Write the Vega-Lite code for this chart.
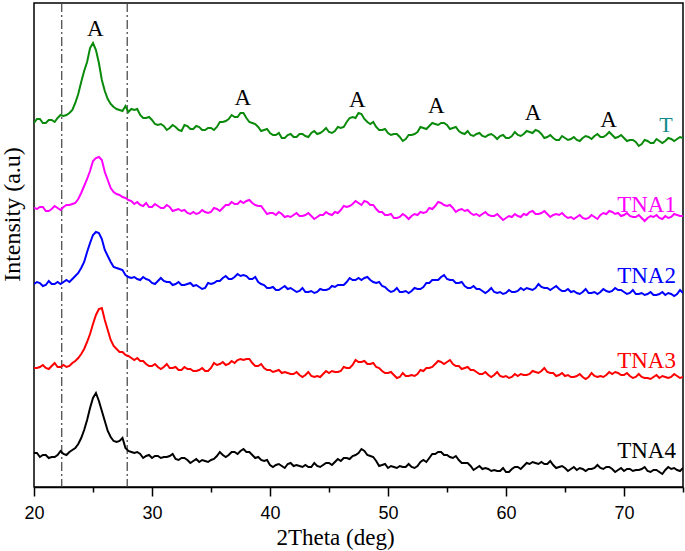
{
  "$schema": "https://vega.github.io/schema/vega-lite/v6.json",
  "autosize": {"type": "none"},
  "padding": {"left": 34, "top": 3, "right": 2, "bottom": 64},
  "width": 649,
  "height": 484,
  "background": "white",
  "config": {"view": {"stroke": "black", "strokeWidth": 1.5}},
  "datasets": {
    "xrd": [
      {"x":20.0,"T":364,"TNA1":279,"TNA2":203,"TNA3":119,"TNA4":34},
      {"x":20.25,"T":368,"TNA1":278,"TNA2":205,"TNA3":119,"TNA4":34},
      {"x":20.5,"T":368,"TNA1":280,"TNA2":204,"TNA3":120,"TNA4":30},
      {"x":20.75,"T":364,"TNA1":280,"TNA2":201,"TNA3":122,"TNA4":32},
      {"x":21.0,"T":364,"TNA1":276,"TNA2":202,"TNA3":119,"TNA4":32},
      {"x":21.25,"T":367,"TNA1":276,"TNA2":206,"TNA3":118,"TNA4":29},
      {"x":21.5,"T":367,"TNA1":278,"TNA2":203,"TNA3":121,"TNA4":30},
      {"x":21.75,"T":365,"TNA1":281,"TNA2":203,"TNA3":124,"TNA4":30},
      {"x":22.0,"T":369,"TNA1":279,"TNA2":205,"TNA3":120,"TNA4":32},
      {"x":22.25,"T":372,"TNA1":277,"TNA2":203,"TNA3":120,"TNA4":36},
      {"x":22.5,"T":371,"TNA1":280,"TNA2":205,"TNA3":122,"TNA4":33},
      {"x":22.75,"T":372,"TNA1":282,"TNA2":207,"TNA3":120,"TNA4":32},
      {"x":23.0,"T":374,"TNA1":282,"TNA2":205,"TNA3":121,"TNA4":35},
      {"x":23.25,"T":377,"TNA1":283,"TNA2":208,"TNA3":124,"TNA4":37},
      {"x":23.5,"T":384,"TNA1":284,"TNA2":211,"TNA3":126,"TNA4":39},
      {"x":23.75,"T":393,"TNA1":288,"TNA2":214,"TNA3":129,"TNA4":43},
      {"x":24.0,"T":405,"TNA1":294,"TNA2":219,"TNA3":133,"TNA4":49},
      {"x":24.25,"T":416,"TNA1":301,"TNA2":225,"TNA3":138,"TNA4":57},
      {"x":24.5,"T":425,"TNA1":308,"TNA2":235,"TNA3":145,"TNA4":67},
      {"x":24.75,"T":439,"TNA1":316,"TNA2":244,"TNA3":153,"TNA4":79},
      {"x":25.0,"T":444,"TNA1":326,"TNA2":252,"TNA3":163,"TNA4":89},
      {"x":25.25,"T":437,"TNA1":329,"TNA2":255,"TNA3":172,"TNA4":94},
      {"x":25.5,"T":424,"TNA1":330,"TNA2":254,"TNA3":178,"TNA4":86},
      {"x":25.75,"T":407,"TNA1":327,"TNA2":248,"TNA3":179,"TNA4":76},
      {"x":26.0,"T":396,"TNA1":315,"TNA2":237,"TNA3":167,"TNA4":66},
      {"x":26.25,"T":388,"TNA1":307,"TNA2":231,"TNA3":157,"TNA4":56},
      {"x":26.5,"T":383,"TNA1":299,"TNA2":225,"TNA3":147,"TNA4":50},
      {"x":26.75,"T":380,"TNA1":295,"TNA2":220,"TNA3":141,"TNA4":46},
      {"x":27.0,"T":378,"TNA1":293,"TNA2":219,"TNA3":138,"TNA4":45},
      {"x":27.25,"T":377,"TNA1":292,"TNA2":218,"TNA3":135,"TNA4":46},
      {"x":27.5,"T":376,"TNA1":290,"TNA2":217,"TNA3":135,"TNA4":49},
      {"x":27.75,"T":381,"TNA1":289,"TNA2":212,"TNA3":132,"TNA4":39},
      {"x":28.0,"T":375,"TNA1":287,"TNA2":210,"TNA3":131,"TNA4":36},
      {"x":28.25,"T":378,"TNA1":286,"TNA2":209,"TNA3":129,"TNA4":35},
      {"x":28.5,"T":377,"TNA1":283,"TNA2":210,"TNA3":127,"TNA4":34},
      {"x":28.75,"T":378,"TNA1":285,"TNA2":208,"TNA3":129,"TNA4":35},
      {"x":29.0,"T":372,"TNA1":282,"TNA2":207,"TNA3":126,"TNA4":33},
      {"x":29.25,"T":369,"TNA1":281,"TNA2":210,"TNA3":126,"TNA4":29},
      {"x":29.5,"T":369,"TNA1":284,"TNA2":208,"TNA3":123,"TNA4":31},
      {"x":29.75,"T":370,"TNA1":280,"TNA2":207,"TNA3":121,"TNA4":32},
      {"x":30.0,"T":367,"TNA1":280,"TNA2":204,"TNA3":121,"TNA4":29},
      {"x":30.25,"T":363,"TNA1":283,"TNA2":203,"TNA3":123,"TNA4":31},
      {"x":30.5,"T":362,"TNA1":281,"TNA2":206,"TNA3":120,"TNA4":31},
      {"x":30.75,"T":363,"TNA1":279,"TNA2":209,"TNA3":118,"TNA4":29},
      {"x":31.0,"T":361,"TNA1":279,"TNA2":206,"TNA3":120,"TNA4":30},
      {"x":31.25,"T":357,"TNA1":282,"TNA2":205,"TNA3":123,"TNA4":30},
      {"x":31.5,"T":359,"TNA1":280,"TNA2":205,"TNA3":119,"TNA4":31},
      {"x":31.75,"T":362,"TNA1":276,"TNA2":202,"TNA3":119,"TNA4":33},
      {"x":32.0,"T":360,"TNA1":277,"TNA2":203,"TNA3":120,"TNA4":28},
      {"x":32.25,"T":357,"TNA1":278,"TNA2":205,"TNA3":117,"TNA4":27},
      {"x":32.5,"T":356,"TNA1":276,"TNA2":202,"TNA3":117,"TNA4":29},
      {"x":32.75,"T":362,"TNA1":277,"TNA2":202,"TNA3":120,"TNA4":29},
      {"x":33.0,"T":361,"TNA1":274,"TNA2":203,"TNA3":118,"TNA4":27},
      {"x":33.25,"T":358,"TNA1":273,"TNA2":204,"TNA3":118,"TNA4":24},
      {"x":33.5,"T":358,"TNA1":275,"TNA2":201,"TNA3":116,"TNA4":26},
      {"x":33.75,"T":361,"TNA1":273,"TNA2":202,"TNA3":116,"TNA4":28},
      {"x":34.0,"T":360,"TNA1":274,"TNA2":200,"TNA3":117,"TNA4":25},
      {"x":34.25,"T":357,"TNA1":277,"TNA2":198,"TNA3":119,"TNA4":27},
      {"x":34.5,"T":357,"TNA1":275,"TNA2":199,"TNA3":116,"TNA4":26},
      {"x":34.75,"T":359,"TNA1":274,"TNA2":204,"TNA3":116,"TNA4":25},
      {"x":35.0,"T":359,"TNA1":275,"TNA2":203,"TNA3":119,"TNA4":27},
      {"x":35.25,"T":357,"TNA1":279,"TNA2":204,"TNA3":124,"TNA4":28},
      {"x":35.5,"T":360,"TNA1":278,"TNA2":206,"TNA3":122,"TNA4":31},
      {"x":35.75,"T":365,"TNA1":276,"TNA2":206,"TNA3":123,"TNA4":35},
      {"x":36.0,"T":365,"TNA1":279,"TNA2":209,"TNA3":125,"TNA4":32},
      {"x":36.25,"T":366,"TNA1":282,"TNA2":211,"TNA3":122,"TNA4":30},
      {"x":36.5,"T":368,"TNA1":282,"TNA2":208,"TNA3":123,"TNA4":32},
      {"x":36.75,"T":372,"TNA1":285,"TNA2":208,"TNA3":126,"TNA4":35},
      {"x":37.0,"T":370,"TNA1":283,"TNA2":210,"TNA3":124,"TNA4":35},
      {"x":37.25,"T":370,"TNA1":283,"TNA2":213,"TNA3":127,"TNA4":33},
      {"x":37.5,"T":374,"TNA1":286,"TNA2":211,"TNA3":128,"TNA4":36},
      {"x":37.75,"T":374,"TNA1":284,"TNA2":212,"TNA3":127,"TNA4":38},
      {"x":38.0,"T":369,"TNA1":286,"TNA2":211,"TNA3":128,"TNA4":35},
      {"x":38.25,"T":365,"TNA1":287,"TNA2":208,"TNA3":128,"TNA4":35},
      {"x":38.5,"T":364,"TNA1":284,"TNA2":208,"TNA3":124,"TNA4":32},
      {"x":38.75,"T":363,"TNA1":282,"TNA2":210,"TNA3":121,"TNA4":29},
      {"x":39.0,"T":360,"TNA1":281,"TNA2":205,"TNA3":121,"TNA4":30},
      {"x":39.25,"T":356,"TNA1":281,"TNA2":203,"TNA3":123,"TNA4":27},
      {"x":39.5,"T":357,"TNA1":277,"TNA2":202,"TNA3":119,"TNA4":26},
      {"x":39.75,"T":358,"TNA1":273,"TNA2":199,"TNA3":117,"TNA4":27},
      {"x":40.0,"T":354,"TNA1":274,"TNA2":199,"TNA3":117,"TNA4":22},
      {"x":40.25,"T":352,"TNA1":274,"TNA2":200,"TNA3":115,"TNA4":20},
      {"x":40.5,"T":352,"TNA1":272,"TNA2":197,"TNA3":116,"TNA4":22},
      {"x":40.75,"T":354,"TNA1":275,"TNA2":197,"TNA3":117,"TNA4":23},
      {"x":41.0,"T":349,"TNA1":273,"TNA2":199,"TNA3":114,"TNA4":21},
      {"x":41.25,"T":349,"TNA1":270,"TNA2":201,"TNA3":115,"TNA4":19},
      {"x":41.5,"T":352,"TNA1":271,"TNA2":198,"TNA3":114,"TNA4":23},
      {"x":41.75,"T":353,"TNA1":270,"TNA2":199,"TNA3":113,"TNA4":24},
      {"x":42.0,"T":350,"TNA1":272,"TNA2":197,"TNA3":113,"TNA4":21},
      {"x":42.25,"T":350,"TNA1":274,"TNA2":195,"TNA3":115,"TNA4":22},
      {"x":42.5,"T":353,"TNA1":271,"TNA2":196,"TNA3":112,"TNA4":21},
      {"x":42.75,"T":353,"TNA1":271,"TNA2":199,"TNA3":110,"TNA4":20},
      {"x":43.0,"T":351,"TNA1":272,"TNA2":195,"TNA3":112,"TNA4":22},
      {"x":43.25,"T":350,"TNA1":274,"TNA2":195,"TNA3":115,"TNA4":20},
      {"x":43.5,"T":354,"TNA1":271,"TNA2":196,"TNA3":111,"TNA4":20},
      {"x":43.75,"T":356,"TNA1":268,"TNA2":194,"TNA3":110,"TNA4":24},
      {"x":44.0,"T":353,"TNA1":270,"TNA2":195,"TNA3":111,"TNA4":21},
      {"x":44.25,"T":354,"TNA1":272,"TNA2":198,"TNA3":110,"TNA4":20},
      {"x":44.5,"T":356,"TNA1":272,"TNA2":197,"TNA3":113,"TNA4":22},
      {"x":44.75,"T":359,"TNA1":275,"TNA2":197,"TNA3":116,"TNA4":24},
      {"x":45.0,"T":355,"TNA1":273,"TNA2":198,"TNA3":114,"TNA4":24},
      {"x":45.25,"T":354,"TNA1":272,"TNA2":201,"TNA3":116,"TNA4":22},
      {"x":45.5,"T":356,"TNA1":275,"TNA2":200,"TNA3":115,"TNA4":25},
      {"x":45.75,"T":360,"TNA1":274,"TNA2":202,"TNA3":115,"TNA4":28},
      {"x":46.0,"T":359,"TNA1":277,"TNA2":202,"TNA3":116,"TNA4":26},
      {"x":46.25,"T":360,"TNA1":281,"TNA2":202,"TNA3":120,"TNA4":29},
      {"x":46.5,"T":365,"TNA1":280,"TNA2":205,"TNA3":119,"TNA4":29},
      {"x":46.75,"T":369,"TNA1":281,"TNA2":209,"TNA3":119,"TNA4":28},
      {"x":47.0,"T":370,"TNA1":283,"TNA2":207,"TNA3":122,"TNA4":31},
      {"x":47.25,"T":369,"TNA1":286,"TNA2":207,"TNA3":127,"TNA4":32},
      {"x":47.5,"T":374,"TNA1":284,"TNA2":209,"TNA3":125,"TNA4":34},
      {"x":47.75,"T":373,"TNA1":282,"TNA2":207,"TNA3":125,"TNA4":38},
      {"x":48.0,"T":368,"TNA1":286,"TNA2":209,"TNA3":126,"TNA4":36},
      {"x":48.25,"T":365,"TNA1":285,"TNA2":210,"TNA3":123,"TNA4":32},
      {"x":48.5,"T":363,"TNA1":282,"TNA2":207,"TNA3":123,"TNA4":31},
      {"x":48.75,"T":365,"TNA1":282,"TNA2":205,"TNA3":124,"TNA4":30},
      {"x":49.0,"T":360,"TNA1":278,"TNA2":204,"TNA3":120,"TNA4":26},
      {"x":49.25,"T":357,"TNA1":275,"TNA2":205,"TNA3":119,"TNA4":21},
      {"x":49.5,"T":357,"TNA1":275,"TNA2":201,"TNA3":116,"TNA4":22},
      {"x":49.75,"T":358,"TNA1":272,"TNA2":200,"TNA3":114,"TNA4":23},
      {"x":50.0,"T":354,"TNA1":272,"TNA2":197,"TNA3":114,"TNA4":19},
      {"x":50.25,"T":352,"TNA1":273,"TNA2":195,"TNA3":115,"TNA4":21},
      {"x":50.5,"T":353,"TNA1":269,"TNA2":196,"TNA3":112,"TNA4":20},
      {"x":50.75,"T":353,"TNA1":269,"TNA2":199,"TNA3":109,"TNA4":19},
      {"x":51.0,"T":350,"TNA1":270,"TNA2":195,"TNA3":110,"TNA4":21},
      {"x":51.25,"T":346,"TNA1":273,"TNA2":195,"TNA3":114,"TNA4":20},
      {"x":51.5,"T":348,"TNA1":271,"TNA2":196,"TNA3":111,"TNA4":20},
      {"x":51.75,"T":352,"TNA1":268,"TNA2":194,"TNA3":111,"TNA4":23},
      {"x":52.0,"T":352,"TNA1":271,"TNA2":196,"TNA3":112,"TNA4":20},
      {"x":52.25,"T":353,"TNA1":273,"TNA2":199,"TNA3":111,"TNA4":19},
      {"x":52.5,"T":355,"TNA1":272,"TNA2":198,"TNA3":113,"TNA4":21},
      {"x":52.75,"T":360,"TNA1":275,"TNA2":198,"TNA3":117,"TNA4":25},
      {"x":53.0,"T":359,"TNA1":274,"TNA2":200,"TNA3":116,"TNA4":27},
      {"x":53.25,"T":358,"TNA1":275,"TNA2":204,"TNA3":119,"TNA4":25},
      {"x":53.5,"T":361,"TNA1":279,"TNA2":204,"TNA3":119,"TNA4":29},
      {"x":53.75,"T":364,"TNA1":278,"TNA2":207,"TNA3":120,"TNA4":33},
      {"x":54.0,"T":363,"TNA1":281,"TNA2":207,"TNA3":123,"TNA4":33},
      {"x":54.25,"T":362,"TNA1":285,"TNA2":207,"TNA3":126,"TNA4":35},
      {"x":54.5,"T":364,"TNA1":284,"TNA2":210,"TNA3":125,"TNA4":35},
      {"x":54.75,"T":364,"TNA1":282,"TNA2":212,"TNA3":123,"TNA4":32},
      {"x":55.0,"T":362,"TNA1":281,"TNA2":208,"TNA3":125,"TNA4":32},
      {"x":55.25,"T":358,"TNA1":282,"TNA2":207,"TNA3":127,"TNA4":30},
      {"x":55.5,"T":359,"TNA1":279,"TNA2":207,"TNA3":123,"TNA4":29},
      {"x":55.75,"T":360,"TNA1":275,"TNA2":204,"TNA3":121,"TNA4":31},
      {"x":56.0,"T":356,"TNA1":277,"TNA2":204,"TNA3":121,"TNA4":27},
      {"x":56.25,"T":354,"TNA1":278,"TNA2":205,"TNA3":118,"TNA4":24},
      {"x":56.5,"T":353,"TNA1":276,"TNA2":201,"TNA3":119,"TNA4":24},
      {"x":56.75,"T":356,"TNA1":277,"TNA2":199,"TNA3":120,"TNA4":24},
      {"x":57.0,"T":352,"TNA1":274,"TNA2":199,"TNA3":117,"TNA4":21},
      {"x":57.25,"T":351,"TNA1":272,"TNA2":201,"TNA3":117,"TNA4":17},
      {"x":57.5,"T":353,"TNA1":273,"TNA2":198,"TNA3":115,"TNA4":19},
      {"x":57.75,"T":354,"TNA1":271,"TNA2":198,"TNA3":113,"TNA4":21},
      {"x":58.0,"T":351,"TNA1":273,"TNA2":196,"TNA3":113,"TNA4":18},
      {"x":58.25,"T":350,"TNA1":275,"TNA2":194,"TNA3":115,"TNA4":19},
      {"x":58.5,"T":352,"TNA1":272,"TNA2":196,"TNA3":112,"TNA4":18},
      {"x":58.75,"T":353,"TNA1":271,"TNA2":199,"TNA3":110,"TNA4":16},
      {"x":59.0,"T":351,"TNA1":271,"TNA2":195,"TNA3":112,"TNA4":17},
      {"x":59.25,"T":348,"TNA1":273,"TNA2":194,"TNA3":115,"TNA4":16},
      {"x":59.5,"T":351,"TNA1":270,"TNA2":195,"TNA3":111,"TNA4":16},
      {"x":59.75,"T":352,"TNA1":267,"TNA2":193,"TNA3":110,"TNA4":19},
      {"x":60.0,"T":349,"TNA1":269,"TNA2":194,"TNA3":111,"TNA4":15},
      {"x":60.25,"T":349,"TNA1":271,"TNA2":197,"TNA3":109,"TNA4":15},
      {"x":60.5,"T":351,"TNA1":270,"TNA2":195,"TNA3":110,"TNA4":18},
      {"x":60.75,"T":355,"TNA1":273,"TNA2":195,"TNA3":113,"TNA4":20},
      {"x":61.0,"T":352,"TNA1":271,"TNA2":196,"TNA3":111,"TNA4":20},
      {"x":61.25,"T":351,"TNA1":270,"TNA2":199,"TNA3":113,"TNA4":18},
      {"x":61.5,"T":353,"TNA1":273,"TNA2":197,"TNA3":112,"TNA4":21},
      {"x":61.75,"T":356,"TNA1":272,"TNA2":199,"TNA3":112,"TNA4":24},
      {"x":62.0,"T":355,"TNA1":275,"TNA2":198,"TNA3":113,"TNA4":23},
      {"x":62.25,"T":354,"TNA1":276,"TNA2":197,"TNA3":116,"TNA4":25},
      {"x":62.5,"T":357,"TNA1":273,"TNA2":199,"TNA3":115,"TNA4":24},
      {"x":62.75,"T":356,"TNA1":273,"TNA2":203,"TNA3":114,"TNA4":23},
      {"x":63.0,"T":353,"TNA1":274,"TNA2":200,"TNA3":116,"TNA4":25},
      {"x":63.25,"T":349,"TNA1":276,"TNA2":199,"TNA3":119,"TNA4":23},
      {"x":63.5,"T":350,"TNA1":273,"TNA2":199,"TNA3":115,"TNA4":23},
      {"x":63.75,"T":352,"TNA1":270,"TNA2":197,"TNA3":114,"TNA4":26},
      {"x":64.0,"T":349,"TNA1":272,"TNA2":199,"TNA3":114,"TNA4":22},
      {"x":64.25,"T":347,"TNA1":273,"TNA2":201,"TNA3":111,"TNA4":19},
      {"x":64.5,"T":347,"TNA1":272,"TNA2":198,"TNA3":112,"TNA4":20},
      {"x":64.75,"T":351,"TNA1":274,"TNA2":196,"TNA3":114,"TNA4":21},
      {"x":65.0,"T":349,"TNA1":271,"TNA2":196,"TNA3":111,"TNA4":19},
      {"x":65.25,"T":347,"TNA1":269,"TNA2":198,"TNA3":112,"TNA4":16},
      {"x":65.5,"T":348,"TNA1":270,"TNA2":195,"TNA3":110,"TNA4":18},
      {"x":65.75,"T":350,"TNA1":268,"TNA2":196,"TNA3":110,"TNA4":20},
      {"x":66.0,"T":347,"TNA1":270,"TNA2":194,"TNA3":111,"TNA4":17},
      {"x":66.25,"T":346,"TNA1":272,"TNA2":193,"TNA3":113,"TNA4":19},
      {"x":66.5,"T":349,"TNA1":269,"TNA2":195,"TNA3":110,"TNA4":18},
      {"x":66.75,"T":351,"TNA1":268,"TNA2":198,"TNA3":108,"TNA4":16},
      {"x":67.0,"T":350,"TNA1":269,"TNA2":194,"TNA3":110,"TNA4":18},
      {"x":67.25,"T":348,"TNA1":272,"TNA2":194,"TNA3":114,"TNA4":18},
      {"x":67.5,"T":351,"TNA1":270,"TNA2":195,"TNA3":111,"TNA4":19},
      {"x":67.75,"T":353,"TNA1":268,"TNA2":193,"TNA3":110,"TNA4":22},
      {"x":68.0,"T":350,"TNA1":272,"TNA2":195,"TNA3":111,"TNA4":19},
      {"x":68.25,"T":350,"TNA1":274,"TNA2":198,"TNA3":110,"TNA4":18},
      {"x":68.5,"T":352,"TNA1":273,"TNA2":196,"TNA3":112,"TNA4":20},
      {"x":68.75,"T":355,"TNA1":276,"TNA2":195,"TNA3":115,"TNA4":20},
      {"x":69.0,"T":352,"TNA1":275,"TNA2":196,"TNA3":113,"TNA4":18},
      {"x":69.25,"T":349,"TNA1":273,"TNA2":199,"TNA3":115,"TNA4":15},
      {"x":69.5,"T":350,"TNA1":274,"TNA2":197,"TNA3":114,"TNA4":17},
      {"x":69.75,"T":352,"TNA1":271,"TNA2":197,"TNA3":112,"TNA4":19},
      {"x":70.0,"T":349,"TNA1":272,"TNA2":195,"TNA3":112,"TNA4":16},
      {"x":70.25,"T":346,"TNA1":274,"TNA2":193,"TNA3":114,"TNA4":18},
      {"x":70.5,"T":347,"TNA1":271,"TNA2":194,"TNA3":111,"TNA4":18},
      {"x":70.75,"T":347,"TNA1":270,"TNA2":197,"TNA3":109,"TNA4":16},
      {"x":71.0,"T":345,"TNA1":270,"TNA2":193,"TNA3":110,"TNA4":17},
      {"x":71.25,"T":341,"TNA1":272,"TNA2":193,"TNA3":113,"TNA4":17},
      {"x":71.5,"T":343,"TNA1":269,"TNA2":194,"TNA3":110,"TNA4":18},
      {"x":71.75,"T":347,"TNA1":266,"TNA2":192,"TNA3":109,"TNA4":20},
      {"x":72.0,"T":346,"TNA1":269,"TNA2":193,"TNA3":109,"TNA4":16},
      {"x":72.25,"T":344,"TNA1":271,"TNA2":195,"TNA3":108,"TNA4":15},
      {"x":72.5,"T":344,"TNA1":270,"TNA2":192,"TNA3":110,"TNA4":17},
      {"x":72.75,"T":348,"TNA1":272,"TNA2":192,"TNA3":112,"TNA4":17},
      {"x":73.0,"T":346,"TNA1":269,"TNA2":193,"TNA3":109,"TNA4":15},
      {"x":73.25,"T":344,"TNA1":268,"TNA2":195,"TNA3":111,"TNA4":13},
      {"x":73.5,"T":346,"TNA1":271,"TNA2":192,"TNA3":110,"TNA4":17},
      {"x":73.75,"T":349,"TNA1":269,"TNA2":194,"TNA3":109,"TNA4":20},
      {"x":74.0,"T":348,"TNA1":270,"TNA2":193,"TNA3":110,"TNA4":18},
      {"x":74.25,"T":346,"TNA1":273,"TNA2":191,"TNA3":113,"TNA4":19},
      {"x":74.5,"T":348,"TNA1":272,"TNA2":193,"TNA3":111,"TNA4":17},
      {"x":74.75,"T":350,"TNA1":271,"TNA2":197,"TNA3":109,"TNA4":16},
      {"x":75.0,"T":349,"TNA1":271,"TNA2":194,"TNA3":110,"TNA4":19}
    ],
    "marks": [
      {"x":22.35},
      {"x":27.9}
    ],
    "peaks": [
      {"x":25.2,"y":451,"label":"A"},
      {"x":37.7,"y":382,"label":"A"},
      {"x":47.4,"y":380,"label":"A"},
      {"x":54.1,"y":374,"label":"A"},
      {"x":62.3,"y":367,"label":"A"},
      {"x":68.7,"y":360,"label":"A"}
    ],
    "names": [
      {"x":74.4,"y":275,"sample":"TNA1"},
      {"x":74.4,"y":204,"sample":"TNA2"},
      {"x":74.4,"y":119,"sample":"TNA3"},
      {"x":74.4,"y":29,"sample":"TNA4"}
    ],
    "tname": [
      {"x":73.55,"y":355,"sample":"T"}
    ]
  },
  "layer": [
    {
      "data": {"name": "marks"},
      "mark": {"type": "rule", "color": "#404040", "strokeWidth": 1.2, "strokeDash": [9, 3, 2, 3]},
      "encoding": {
        "x": {"field": "x", "type": "quantitative", "scale": {"domain": [20, 75], "nice": false, "zero": false}}
      }
    },
    {
      "data": {"name": "xrd"},
      "transform": [{"fold": ["T", "TNA1", "TNA2", "TNA3", "TNA4"], "as": ["sample", "intensity"]}],
      "mark": {"type": "line", "strokeWidth": 2, "clip": true},
      "encoding": {
        "x": {
          "field": "x", "type": "quantitative",
          "scale": {"domain": [20, 75], "nice": false, "zero": false},
          "axis": {
            "title": "2Theta (deg)",
            "values": [20, 25, 30, 35, 40, 45, 50, 55, 60, 65, 70, 75],
            "labelExpr": "datum.value % 10 === 0 ? datum.label : ''",
            "grid": false,
            "domainColor": "black",
            "domainWidth": 1.5,
            "tickColor": "black",
            "tickWidth": 1.5,
            "tickSize": {"condition": {"test": "datum.value % 10 === 0", "value": 9}, "value": 5},
            "labelFont": "Liberation Sans",
            "labelFontSize": 18,
            "labelColor": "black",
            "labelPadding": 8,
            "labelFlush": false,
            "titleFont": "Liberation Serif",
            "titleFontSize": 23,
            "titleFontWeight": "normal",
            "titleColor": "black",
            "titleX": 301,
            "titleY": 57,
            "titleAlign": "center",
            "titleBaseline": "alphabetic"
          }
        },
        "y": {
          "field": "intensity", "type": "quantitative",
          "scale": {"domain": [0, 484], "nice": false, "zero": false},
          "axis": {
            "title": "Intensity (a.u)",
            "labels": false,
            "ticks": false,
            "domain": false,
            "grid": false,
            "titleFont": "Liberation Serif",
            "titleFontSize": 24,
            "titleFontWeight": "normal",
            "titleColor": "black",
            "titleX": -15,
            "titleY": 211,
            "titleAlign": "center",
            "titleBaseline": "alphabetic"
          }
        },
        "color": {
          "field": "sample", "type": "nominal",
          "scale": {"domain": ["T", "TNA1", "TNA2", "TNA3", "TNA4"], "range": ["#0a8a0a", "#ff00ff", "#0000ff", "#ff0000", "#000000"]},
          "legend": null
        }
      }
    },
    {
      "data": {"name": "peaks"},
      "mark": {"type": "text", "font": "Liberation Serif", "fontSize": 23, "color": "black", "align": "center", "baseline": "alphabetic"},
      "encoding": {
        "x": {"field": "x", "type": "quantitative"},
        "y": {"field": "y", "type": "quantitative"},
        "text": {"field": "label"}
      }
    },
    {
      "data": {"name": "names"},
      "mark": {"type": "text", "font": "Liberation Serif", "fontSize": 23, "align": "right", "baseline": "alphabetic"},
      "encoding": {
        "x": {"field": "x", "type": "quantitative"},
        "y": {"field": "y", "type": "quantitative"},
        "text": {"field": "sample"},
        "color": {"field": "sample", "type": "nominal", "legend": null}
      }
    },
    {
      "data": {"name": "tname"},
      "mark": {"type": "text", "font": "Liberation Serif", "fontSize": 22, "align": "center", "baseline": "alphabetic", "color": "#108a8a"},
      "encoding": {
        "x": {"field": "x", "type": "quantitative"},
        "y": {"field": "y", "type": "quantitative"},
        "text": {"field": "sample"}
      }
    }
  ]
}
